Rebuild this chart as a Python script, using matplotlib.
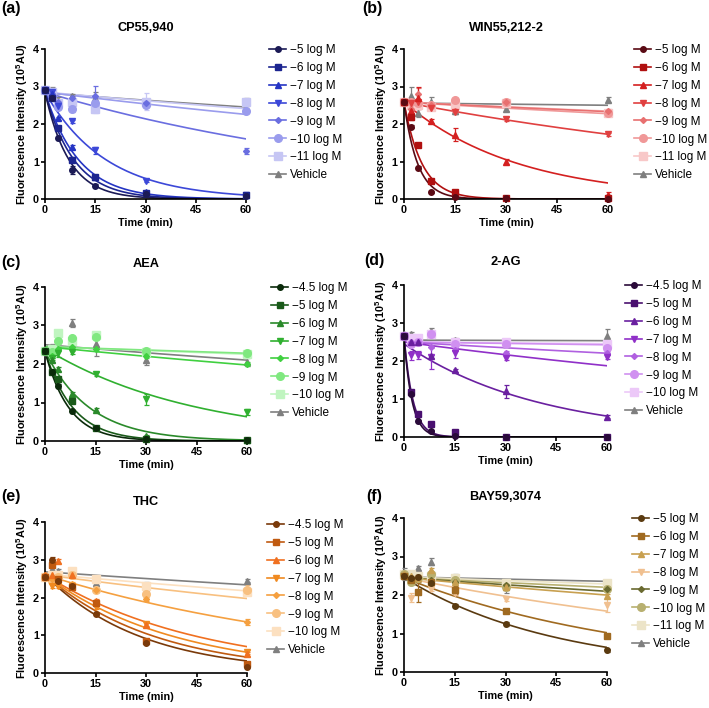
import matplotlib
matplotlib.use("Agg")
import matplotlib.pyplot as plt
from matplotlib.lines import Line2D
import numpy as np

plt.rcParams['font.family'] = ['Liberation Sans', 'DejaVu Sans']
plt.rcParams['mathtext.fontset'] = 'custom'
plt.rcParams['mathtext.bf'] = 'Liberation Sans:bold'
plt.rcParams['mathtext.rm'] = 'Liberation Sans'

time_min = [0, 2, 4, 8, 15, 30, 60]

# (a) CP55,940
cp_labels = ['\u22125 log M', '\u22126 log M', '\u22127 log M', '\u22128 log M',
             '\u22129 log M', '\u221210 log M', '\u221211 log M', 'Vehicle']
cp_colors = ['#1b1a55', '#1c2590', '#2535c4', '#3c48d8', '#6a6ee0', '#9a9ced', '#c6c6f4', '#7f7f7f']
cp_mean = [[2.9, 2.7, 1.63, 0.78, 0.35, 0.13, 0.08],
           [2.9, 2.7, 1.9, 1.05, 0.6, 0.15, 0.1],
           [2.9, 2.8, 2.15, 1.38, 0.6, 0.18, 0.1],
           [2.9, 2.85, 2.48, 2.07, 1.3, 0.48, 0.1],
           [2.9, 2.8, 2.6, 2.7, 2.75, 2.55, 1.28],
           [2.9, 2.75, 2.45, 2.4, 2.55, 2.5, 2.35],
           [2.9, 2.85, 2.55, 2.6, 2.4, 2.6, 2.6],
           [2.9, 2.9, 2.65, 2.75, 2.7, 2.55, 2.55]]
cp_err = [[.03, .05, .05, .1, .04, .03, .03],
          [.03, .05, .05, .06, .04, .03, .03],
          [.03, .05, .05, .05, .04, .03, .03],
          [.03, .05, .05, .04, .1, .03, .03],
          [.03, .05, .05, .05, .27, .04, .07],
          [.03, .1, .05, .08, .05, .05, .05],
          [.03, .05, .05, .05, .1, .22, .08],
          [.03, .1, .08, .06, .15, .08, .15]]
cp_y0 = [2.85, 2.85, 2.85, 2.85, 2.85, 2.85, 2.85, 2.83]
cp_k = [0.14, 0.116, 0.10, 0.055, 0.0096, 0.0039, 0.0028, 0.0024]

# (b) WIN55,212-2
win_labels = cp_labels
win_colors = ['#5a0a14', '#b01010', '#d42020', '#e04040', '#e87070', '#f09898', '#f8c8c8', '#7f7f7f']
win_mean = [[2.58, 1.93, 0.83, 0.18, 0.05, 0.02, 0.01],
            [2.58, 2.2, 1.45, 0.48, 0.18, 0.02, 0.02],
            [2.58, 2.35, 2.7, 2.08, 1.72, 1.0, 0.12],
            [2.58, 2.55, 2.6, 2.42, 2.32, 2.13, 1.73],
            [2.58, 2.4, 2.8, 2.5, 2.35, 2.6, 2.35],
            [2.58, 2.6, 2.55, 2.5, 2.65, 2.6, 2.3],
            [2.58, 2.5, 2.5, 2.45, 2.5, 2.55, 2.3],
            [2.58, 2.75, 2.3, 2.6, 2.35, 2.4, 2.65]]
win_err = [[.03, .04, .04, .03, .03, .02, .02],
           [.03, .1, .05, .04, .05, .02, .02],
           [.03, .05, .3, .05, .17, .06, .06],
           [.03, .05, .05, .05, .05, .05, .04],
           [.03, .05, .15, .05, .05, .04, .05],
           [.03, .05, .05, .05, .04, .04, .05],
           [.03, .05, .05, .05, .05, .04, .05],
           [.03, .25, .1, .12, .08, .06, .07]]
win_y0 = [2.58, 2.58, 2.58, 2.58, 2.58, 2.58, 2.58, 2.56]
win_k = [0.25, 0.19, 0.03, 0.0067, 0.0017, 0.0021, 0.0016, 0.0004]

# (c) AEA
aea_labels = ['\u22124.5 log M', '\u22125 log M', '\u22126 log M', '\u22127 log M',
              '\u22128 log M', '\u22129 log M', '\u221210 log M', 'Vehicle']
aea_colors = ['#0a2a0a', '#1a5a1a', '#2a8a2a', '#30b030', '#40d040', '#80e880', '#c0f5c0', '#7f7f7f']
aea_mean = [[2.33, 1.8, 1.42, 0.77, 0.33, 0.05, 0.03],
            [2.33, 1.8, 1.6, 1.05, 0.35, 0.05, 0.03],
            [2.33, 2.1, 1.88, 1.22, 0.8, 0.12, 0.03],
            [2.33, 2.15, 2.28, 2.3, 1.73, 1.08, 0.75],
            [2.33, 2.2, 2.4, 2.45, 2.4, 2.2, 2.0],
            [2.33, 2.3, 2.6, 2.68, 2.7, 2.35, 2.28],
            [2.33, 2.4, 2.8, 2.6, 2.75, 2.3, 2.25],
            [2.33, 2.4, 2.65, 3.07, 2.52, 2.1, 2.05]]
aea_err = [[.03, .05, .05, .04, .04, .03, .03],
           [.03, .05, .05, .05, .04, .03, .03],
           [.03, .05, .05, .05, .05, .04, .03],
           [.03, .05, .1, .05, .05, .15, .07],
           [.03, .05, .05, .05, .05, .05, .05],
           [.03, .05, .05, .05, .05, .05, .05],
           [.03, .05, .08, .05, .08, .05, .05],
           [.03, .12, .05, .1, .3, .12, .1]]
aea_y0 = [2.33, 2.33, 2.33, 2.4, 2.45, 2.45, 2.45, 2.5]
aea_k = [0.14, 0.12, 0.075, 0.0223, 0.0036, 0.0012, 0.0014, 0.0029]

# (d) 2-AG
ag_labels = aea_labels
ag_colors = ['#2a0a3a', '#4a1070', '#6a20a0', '#9030c8', '#b060e0', '#d090f0', '#ecc8f8', '#7f7f7f']
ag_mean = [[2.65, 1.12, 0.42, 0.15, 0.03, 0.01, 0.01],
           [2.65, 1.18, 0.6, 0.35, 0.12, 0.01, 0.01],
           [2.65, 2.5, 2.5, 2.12, 1.75, 1.2, 0.53],
           [2.65, 2.15, 2.15, 2.1, 2.22, 2.08, 2.1],
           [2.65, 2.5, 2.5, 2.38, 2.3, 2.2, 2.2],
           [2.65, 2.45, 2.5, 2.7, 2.45, 2.45, 2.35],
           [2.65, 2.6, 2.6, 2.72, 2.5, 2.5, 2.45],
           [2.7, 2.7, 2.6, 2.78, 2.55, 2.45, 2.65]]
ag_err = [[.03, .05, .04, .03, .03, .02, .02],
          [.03, .05, .05, .04, .04, .02, .02],
          [.03, .05, .05, .05, .04, .18, .04],
          [.03, .12, .1, .3, .15, .05, .05],
          [.03, .05, .05, .05, .05, .05, .05],
          [.03, .05, .05, .05, .05, .05, .05],
          [.03, .05, .05, .05, .05, .05, .05],
          [.03, .05, .08, .1, .05, .08, .18]]
ag_y0 = [2.65, 2.65, 2.45, 2.5, 2.5, 2.5, 2.5, 2.55]
ag_k = [0.43, 0.38, 0.0249, 0.0048, 0.0021, 0.0005, 0.0003, 0.0001]

# (e) THC
thc_labels = aea_labels
thc_colors = ['#7a3a0a', '#c05a10', '#f07020', '#f08a20', '#f5a040', '#f8c080', '#fce0c0', '#7f7f7f']
thc_mean = [[2.55, 3.0, 2.45, 2.3, 1.57, 0.8, 0.17],
            [2.55, 2.85, 2.5, 2.28, 1.85, 0.85, 0.25],
            [2.6, 2.6, 2.97, 2.6, 1.9, 1.28, 0.5],
            [2.55, 2.3, 2.3, 2.3, 1.75, 1.3, 0.55],
            [2.6, 2.5, 2.4, 2.35, 2.2, 1.97, 1.35],
            [2.55, 2.45, 2.55, 2.6, 2.2, 2.1, 2.2],
            [2.55, 2.6, 2.6, 2.7, 2.5, 2.3, 2.15],
            [2.55, 2.75, 2.7, 2.73, 2.38, 2.28, 2.45]]
thc_err = [[.03, .08, .05, .05, .04, .04, .04],
           [.03, .05, .05, .05, .06, .05, .04],
           [.03, .05, .05, .05, .05, .06, .06],
           [.03, .05, .05, .05, .05, .05, .05],
           [.03, .05, .05, .05, .05, .05, .07],
           [.03, .05, .05, .05, .05, .15, .12],
           [.03, .05, .05, .05, .05, .05, .05],
           [.03, .08, .05, .05, .12, .12, .05]]
thc_y0 = [2.6, 2.6, 2.6, 2.6, 2.6, 2.6, 2.62, 2.68]
thc_k = [0.035, 0.0304, 0.0219, 0.0259, 0.0109, 0.0046, 0.0031, 0.0023]

# (f) BAY59,3074
bay_labels = cp_labels
bay_colors = ['#5a3a10', '#a06a20', '#c8a050', '#f0c090', '#6a6a30', '#b8b070', '#ece4c8', '#7f7f7f']
bay_mean = [[2.5, 2.45, 2.48, 2.3, 1.72, 1.25, 0.57],
            [2.5, 2.4, 2.08, 2.35, 2.13, 1.58, 0.94],
            [2.55, 2.5, 2.45, 2.65, 2.35, 2.2, 1.97],
            [2.5, 1.93, 2.45, 2.15, 2.05, 1.9, 1.75],
            [2.5, 2.45, 2.45, 2.4, 2.35, 2.25, 2.15],
            [2.55, 2.35, 2.45, 2.55, 2.4, 2.2, 2.15],
            [2.55, 2.55, 2.5, 2.5, 2.45, 2.3, 2.3],
            [2.55, 2.4, 2.7, 2.87, 2.45, 2.2, 2.35]]
bay_err = [[.03, .05, .05, .05, .04, .05, .04],
           [.03, .05, .25, .05, .1, .04, .05],
           [.03, .05, .05, .05, .05, .05, .05],
           [.03, .12, .05, .05, .05, .05, .2],
           [.03, .05, .05, .05, .05, .05, .05],
           [.03, .1, .05, .05, .05, .05, .05],
           [.03, .05, .05, .05, .05, .05, .05],
           [.15, .05, .05, .08, .1, .15, .05]]
bay_y0 = [2.45, 2.45, 2.45, 2.45, 2.45, 2.45, 2.47, 2.47]
bay_k = [0.0224, 0.0146, 0.0034, 0.0073, 0.0026, 0.0018, 0.0013, 0.0008]

markers = ['o', 's', '^', 'v', 'D', 'o', 's', '^']
msizes = [4, 4, 4, 4, 3, 5.5, 5.5, 5]

W, H = 709, 708


def fx(px):
    return px / W


def fy(py):
    return 1 - py / H


def draw_panel(box, tag, tag_xy, title, title_y, labels, colors, mean, err, y0, k, leg_xy):
    x0, x1, ytop, ybot = box
    ax = fig.add_axes([fx(x0), fy(ybot), (x1 - x0) / W, (ybot - ytop) / H])
    tt = np.linspace(0, 60, 200)
    n = len(labels)
    # fitted one-phase decay curves
    for i in range(n):
        ax.plot(tt, y0[i] * np.exp(-k[i] * tt), color=colors[i], lw=1.2, zorder=2 + (n - i) * 0.01)
    handles = []
    for i in reversed(range(n)):
        c = ax.errorbar(time_min, mean[i], yerr=err[i], fmt=markers[i], color=colors[i],
                        ms=msizes[i], capsize=1.8, elinewidth=0.9, capthick=0.9, zorder=3 + (n - i) * 0.01)
        c[0].set_clip_on(False)
        for a in list(c[1]) + list(c[2]):
            a.set_clip_on(False)
    for i in range(n):
        handles.append(Line2D([], [], color=colors[i], marker=markers[i], ms=msizes[i], lw=1.2))
    ax.set_xlim(0, 60)
    ax.set_ylim(0, 4)
    ax.set_xticks([0, 15, 30, 45, 60])
    ax.set_yticks([0, 1, 2, 3, 4])
    for s in ['top', 'right']:
        ax.spines[s].set_visible(False)
    for s in ['left', 'bottom']:
        ax.spines[s].set_linewidth(1.2)
    ax.tick_params(direction='out', length=3, width=1.2, labelsize=7.8, pad=1.5)
    for lab in ax.get_xticklabels() + ax.get_yticklabels():
        lab.set_fontweight('bold')
    ax.set_xlabel('Time (min)', fontsize=7.8, fontweight='bold', labelpad=2)
    ax.set_ylabel(r'Fluorescence Intensity (10$^{\mathbf{5}}$AU)', fontsize=7.8,
                  fontweight='bold', labelpad=2)
    fig.text(fx((x0 + x1) / 2), fy(title_y), title, ha='center', va='center',
             fontsize=9.2, fontweight='bold')
    fig.text(fx(tag_xy[0]), fy(tag_xy[1]), tag, ha='left', va='center',
             fontsize=11.5, fontweight='bold')
    fig.legend(handles=handles, labels=labels, loc='upper left',
               bbox_to_anchor=(fx(leg_xy[0]), fy(leg_xy[1])), frameon=False,
               fontsize=8.5, handlelength=1.45, handletextpad=0.3, labelspacing=0.5,
               borderpad=0, borderaxespad=0)
    return ax


fig = plt.figure(figsize=(W / 100, H / 100), dpi=100)

draw_panel((45, 246, 49, 199), '(a)', (1, 9), 'CP55,940', 28,
           cp_labels, cp_colors, cp_mean, cp_err, cp_y0, cp_k, (269, 44))
draw_panel((404, 608, 49, 199), '(b)', (362, 8), 'WIN55,212-2', 28,
           win_labels, win_colors, win_mean, win_err, win_y0, win_k, (634, 44))
draw_panel((45, 247, 287, 441), '(c)', (1, 262), 'AEA', 264,
           aea_labels, aea_colors, aea_mean, aea_err, aea_y0, aea_k, (271, 282))
draw_panel((404, 607, 285, 437), '(d)', (364, 260), '2-AG', 262,
           ag_labels, ag_colors, ag_mean, ag_err, ag_y0, ag_k, (625, 280))
draw_panel((45, 247, 522, 673), '(e)', (1, 497), 'THC', 502,
           thc_labels, thc_colors, thc_mean, thc_err, thc_y0, thc_k, (267, 519))
draw_panel((404, 607, 518, 672), '(f)', (366, 496), 'BAY59,3074', 497,
           bay_labels, bay_colors, bay_mean, bay_err, bay_y0, bay_k, (632, 513))

fig.savefig('out.png', dpi=100)
